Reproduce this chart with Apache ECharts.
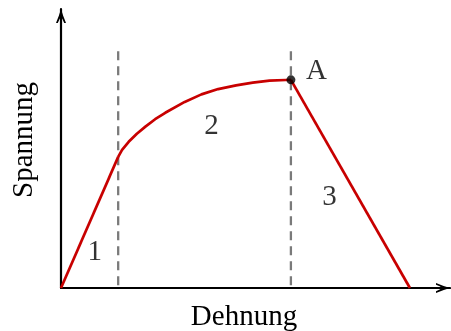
<!DOCTYPE html>
<html>
<head>
<meta charset="utf-8">
<script src="https://cdn.jsdelivr.net/npm/echarts@6/dist/echarts.min.js"></script>
<style>
  html, body { margin: 0; padding: 0; background: #fff; }
  #chart { width: 451px; height: 331px; }
</style>
</head>
<body>
<div id="chart"></div>
<script>
// Spannungs-Dehnungs-Kurve (Werte in willkuerlichen Einheiten, 0..10)
const elasticStrain = [0, 1.47];
const elasticStress = [0, 4.70];
const plasticStrain = [1.47, 1.57, 1.74, 1.95, 2.17, 2.42, 2.68, 3.18, 3.61, 4.04, 4.50, 4.93, 5.36, 5.78, 5.91];
const plasticStress = [4.70, 4.95, 5.24, 5.53, 5.785, 6.05, 6.28, 6.67, 6.94, 7.13, 7.26, 7.36, 7.43, 7.455, 7.46];
const fractureStrain = [5.91, 8.97];
const fractureStress = [7.46, 0];
// Bereichsgrenzen (gestrichelt)
const boundaryStrain = [1.47, 5.91];
const boundaryTop = 8.49;
// Beschriftungen
const regionNames = ["1", "2", "3", "A"];
const regionX = [0.87, 3.87, 6.90, 6.57];
const regionY = [1.29, 5.81, 3.23, 7.75];
const pointA = [5.91, 7.46];

const red = "#c80000";
const font = "Liberation Serif";

function zip(xs, ys) {
  return xs.map(function (x, i) { return [x, ys[i]]; });
}

var myChart = echarts.init(document.getElementById("chart"), null, { renderer: "canvas" });

// offene Pfeilspitze wie bei TikZ
var arrow = "path://M0,14 Q3,7 5,0 Q7,7 10,14 L8.2,14 Q6.6,9.6 5,8 Q3.4,9.6 1.8,14 Z";

var series = [];
// gestrichelte Grenzen
boundaryStrain.forEach(function (x) {
  series.push({
    type: "line",
    data: [[x, boundaryTop], [x, 0]],
    showSymbol: false,
    silent: true,
    lineStyle: { color: "#7a7a7a", width: 2.3, type: [9, 6] },
    z: 1,
  });
});
series.push({
  type: "line",
  data: zip(elasticStrain, elasticStress),
  showSymbol: false,
  lineStyle: { color: red, width: 2.7 },
  z: 3,
});
series.push({
  type: "line",
  data: zip(plasticStrain, plasticStress),
  showSymbol: false,
  lineStyle: { color: red, width: 2.7, join: "round" },
  z: 3,
});
series.push({
  type: "line",
  data: zip(fractureStrain, fractureStress),
  showSymbol: false,
  lineStyle: { color: red, width: 2.7 },
  z: 3,
});
// Punkt A
series.push({
  type: "scatter",
  data: [pointA],
  symbolSize: 9,
  itemStyle: { color: "#000" },
  z: 5,
});
// Texte
series.push({
  type: "scatter",
  data: regionNames.map(function (n, i) { return [regionX[i], regionY[i], n]; }),
  symbolSize: 0,
  label: {
    show: true,
    position: "inside",
    formatter: function (p) { return p.data[2]; },
    color: "#000",
    fontFamily: font,
    fontSize: 29,
  },
  z: 6,
});

myChart.setOption({
  animation: false,
  grid: { left: 61, right: 1, top: 9, bottom: 43 },
  xAxis: {
    type: "value",
    min: 0,
    max: 10,
    axisLine: {
      show: true,
      onZero: false,
      symbol: ["none", arrow],
      symbolSize: [10, 14],
      symbolOffset: [0, -7],
      lineStyle: { color: "#000", width: 2.2 },
    },
    axisTick: { show: false },
    axisLabel: { show: false },
    splitLine: { show: false },
  },
  yAxis: {
    type: "value",
    min: 0,
    max: 10,
    axisLine: {
      show: true,
      onZero: false,
      symbol: ["none", arrow],
      symbolSize: [10, 14],
      symbolOffset: [0, -7],
      lineStyle: { color: "#000", width: 2.2 },
    },
    axisTick: { show: false },
    axisLabel: { show: false },
    splitLine: { show: false },
  },
  graphic: [
    {
      type: "text",
      x: 244,
      y: 317,
      style: {
        text: "Dehnung",
        font: "29px '" + font + "'",
        fill: "#000",
        align: "center",
        verticalAlign: "middle",
      },
    },
    {
      type: "text",
      x: 24,
      y: 140,
      rotation: Math.PI / 2,
      style: {
        text: "Spannung",
        font: "29px '" + font + "'",
        fill: "#000",
        align: "center",
        verticalAlign: "middle",
      },
    },
  ],
  series: series,
});
</script>
</body>
</html>
